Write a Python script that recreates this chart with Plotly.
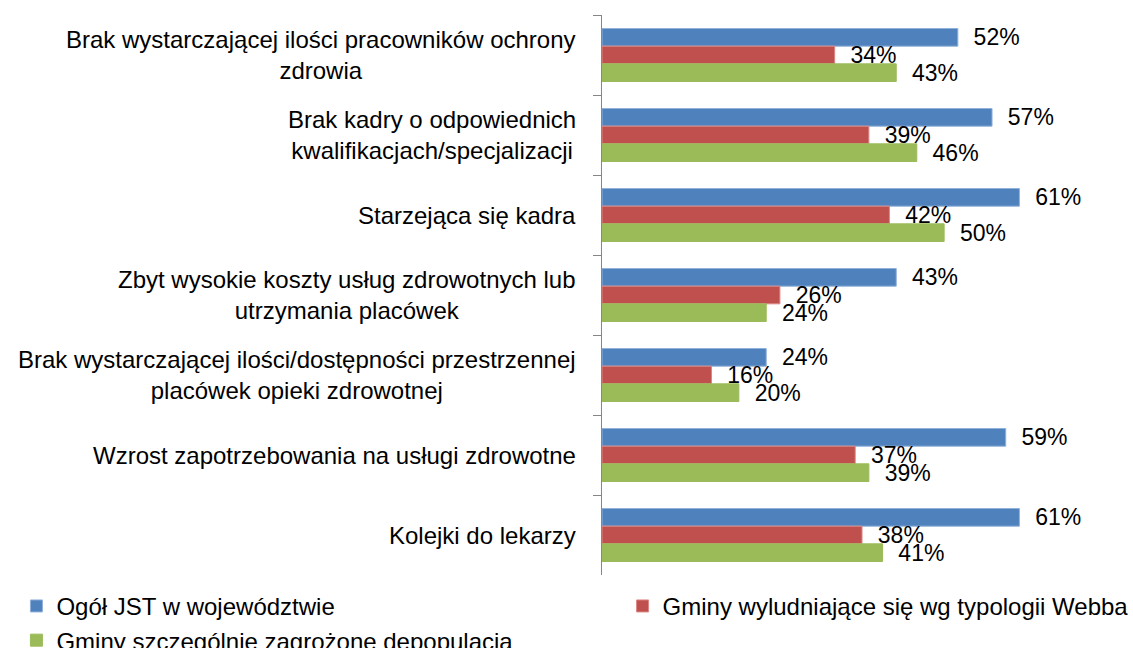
import plotly.graph_objects as go

# Categories (top to bottom) and series values in percent
categories = [
    "Brak wystarczającej ilości pracowników ochrony<br>zdrowia",
    "Brak kadry o odpowiednich<br>kwalifikacjach/specjalizacji",
    "Starzejąca się kadra",
    "Zbyt wysokie koszty usług zdrowotnych lub<br>utrzymania placówek",
    "Brak wystarczającej ilości/dostępności przestrzennej<br>placówek opieki zdrowotnej",
    "Wzrost zapotrzebowania na usługi zdrowotne",
    "Kolejki do lekarzy",
]
series_names = [
    "Ogół JST w województwie",
    "Gminy wyludniające się wg typologii Webba",
    "Gminy szczególnie zagrożone depopulacją",
]
ogol_jst = [52, 57, 61, 43, 24, 59, 61]
gminy_webba = [34, 39, 42, 26, 16, 37, 38]
gminy_depop = [43, 46, 50, 24, 20, 39, 41]

colors = ["#4F81BD", "#C0504D", "#9BBB59"]
edge_colors = ["#8FB0DA", "#D98784", "#9BBB59"]
legend_ids = ["legend", "legend2", "legend"]
FONT = "Liberation Sans"
FS_CAT = 24
FS_VAL = 23

fig = go.Figure()
for name, vals, col, edge, lg in zip(series_names, [ogol_jst, gminy_webba, gminy_depop],
                                     colors, edge_colors, legend_ids):
    fig.add_trace(go.Bar(
        name=name,
        y=categories,
        x=vals,
        orientation="h",
        legend=lg,
        marker=dict(color=col, line=dict(color=edge, width=1)),
        text=vals,
        texttemplate="\u00a0\u00a0%{x}%",
        textposition="outside",
        constraintext="none",
        cliponaxis=False,
        textfont=dict(family=FONT, size=FS_VAL, color="#000000"),
    ))

# Category labels as centred multi-line blocks to the left of the axis
for cat in categories:
    fig.add_annotation(
        x=0, xref="paper", y=cat, yref="y",
        text=cat, showarrow=False, xanchor="right", yanchor="middle",
        align="center", xshift=-24,
        font=dict(family=FONT, size=FS_CAT, color="#000000"),
    )

legend_common = dict(
    orientation="v", xref="container", yref="container",
    xanchor="left", yanchor="top",
    font=dict(family=FONT, size=FS_CAT, color="#000000"),
    traceorder="normal", itemclick=False, itemdoubleclick=False,
    tracegroupgap=0, bgcolor="rgba(0,0,0,0)",
)

fig.update_layout(
    width=1133, height=648,
    margin=dict(l=602, r=52, t=15, b=73, autoexpand=False),
    paper_bgcolor="white", plot_bgcolor="white",
    barmode="group", bargap=0.3375, bargroupgap=0,
    font=dict(family=FONT, size=FS_CAT, color="#000000"),
    showlegend=True,
    legend=dict(x=0.0145, y=0.099, **legend_common),
    legend2=dict(x=0.5495, y=0.099, **legend_common),
    xaxis=dict(range=[0, 70], visible=False, fixedrange=True),
    yaxis=dict(
        autorange="reversed", showticklabels=False,
        showline=True, linecolor="#868686", linewidth=1.3,
        ticks="outside", tickson="boundaries", ticklen=8,
        tickcolor="#868686", tickwidth=1.3, showgrid=False,
        zeroline=False,
    ),
)

fig.write_html("out.html")
